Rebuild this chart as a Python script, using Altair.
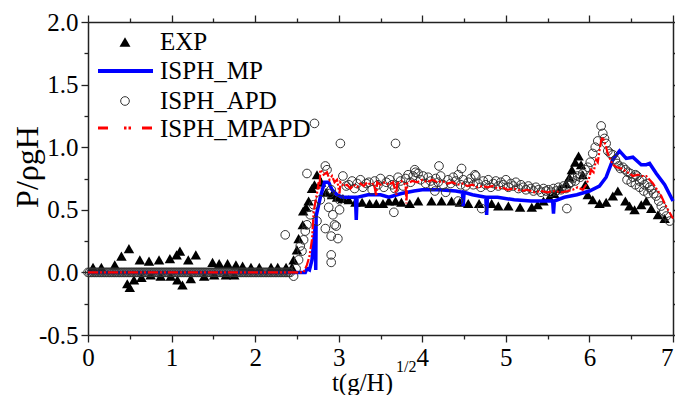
import altair as alt
import pandas as pd

FONT = "Liberation Serif, Times New Roman, serif"

# ---------------- data ----------------
exp_t = [0.06, 0.16, 0.32, 0.40, 0.47, 0.49, 0.50, 0.55, 0.62, 0.64, 0.73, 0.75, 0.85, 0.87,
         0.98, 0.99, 1.06, 1.07, 1.10, 1.13, 1.20, 1.23, 1.29, 1.39, 1.49, 1.51, 1.57, 1.65,
         1.67, 1.75, 1.77, 1.85, 1.95, 2.05, 2.19, 2.27, 2.37,
         2.44, 2.46, 2.50, 2.52, 2.57, 2.575, 2.61, 2.64, 2.68, 2.71, 2.74,
         2.79, 2.85, 2.92, 2.98, 3.05, 3.12, 3.20, 3.28, 3.37, 3.45, 3.53, 3.60, 3.68, 3.75,
         3.85, 3.95, 4.11, 4.23, 4.35, 4.45, 4.55, 4.68, 4.83, 4.91, 5.03, 5.17, 5.31, 5.38,
         5.45, 5.52, 5.58, 5.65, 5.72, 5.76, 5.79, 5.83, 5.87, 5.90, 5.92, 5.95, 5.98, 6.04,
         6.12, 6.20, 6.28, 6.34, 6.43, 6.48, 6.54, 6.62, 6.68, 6.74, 6.82, 6.90]
exp_p = [0.04, 0.04, 0.06, 0.13, -0.09, 0.19, -0.12, -0.06, 0.10, -0.04, 0.09, -0.02, 0.10, -0.03,
         0.11, -0.03, 0.14, -0.06, 0.17, -0.10, 0.10, -0.05, 0.14, -0.03, 0.08, -0.02, 0.07, -0.02,
         0.07, -0.02, 0.06, 0.05, 0.04, 0.04, 0.04, 0.04, 0.04,
         0.04, 0.10, 0.18, 0.27, 0.38, 0.49, 0.52, 0.57, 0.67, 0.70, 0.78,
         0.72, 0.64, 0.62, 0.60, 0.59, 0.58, 0.56, 0.56, 0.55, 0.55, 0.55, 0.57, 0.57, 0.56,
         0.55, 0.57, 0.57, 0.57, 0.57, 0.56, 0.55, 0.55, 0.55, 0.53, 0.53, 0.52, 0.52, 0.54,
         0.57, 0.60, 0.63, 0.67, 0.71, 0.76, 0.82, 0.88, 0.93, 0.86, 0.78, 0.70, 0.62, 0.58,
         0.55, 0.56, 0.61, 0.65, 0.57, 0.53, 0.50, 0.54, 0.57, 0.51, 0.46, 0.43]

mp_t = [0.00, 2.55, 2.60, 2.62, 2.65, 2.68, 2.72, 2.725, 2.73, 2.78, 2.83, 2.88, 2.92, 2.98,
        3.05, 3.15, 3.20, 3.21, 3.22, 3.35, 3.50, 3.60, 3.75, 3.90, 4.00, 4.20, 4.40, 4.48,
        4.49, 4.50, 4.60, 4.76, 4.77, 4.78, 4.90, 5.10, 5.30, 5.50, 5.56, 5.57, 5.58, 5.70,
        5.85, 6.00, 6.12, 6.20, 6.28, 6.36, 6.44, 6.52, 6.62, 6.68, 6.72, 6.80, 6.90, 7.00]
mp_p = [0.00, 0.00, 0.00, 0.03, 0.02, 0.10, 0.38, 0.02, 0.45, 0.60, 0.72, 0.72, 0.66, 0.62,
        0.60, 0.60, 0.60, 0.42, 0.60, 0.62, 0.62, 0.60, 0.63, 0.65, 0.66, 0.66, 0.65, 0.64,
        0.53, 0.64, 0.62, 0.60, 0.46, 0.60, 0.60, 0.58, 0.57, 0.57, 0.57, 0.47, 0.57, 0.60,
        0.62, 0.65, 0.69, 0.76, 0.90, 0.97, 0.91, 0.92, 0.86, 0.86, 0.87, 0.79, 0.70, 0.57]

apd_t = [0.00, 0.02, 0.04, 0.06, 0.08, 0.10, 0.12, 0.14, 0.16, 0.18, 0.20, 0.22, 0.24, 0.26,
         0.28, 0.30, 0.32, 0.34, 0.36, 0.38, 0.40, 0.42, 0.44, 0.46, 0.48, 0.50, 0.52, 0.54,
         0.56, 0.58, 0.60, 0.62, 0.64, 0.66, 0.68, 0.70, 0.72, 0.74, 0.76, 0.78, 0.80, 0.82,
         0.84, 0.86, 0.88, 0.90, 0.92, 0.94, 0.96, 0.98, 1.00, 1.02, 1.04, 1.06, 1.08, 1.10,
         1.12, 1.14, 1.16, 1.18, 1.20, 1.22, 1.24, 1.26, 1.28, 1.30, 1.32, 1.34, 1.36, 1.38,
         1.40, 1.42, 1.44, 1.46, 1.48, 1.50, 1.52, 1.54, 1.56, 1.58, 1.60, 1.62, 1.64, 1.66,
         1.68, 1.70, 1.72, 1.74, 1.76, 1.78, 1.80, 1.82, 1.84, 1.86, 1.88, 1.90, 1.92, 1.94,
         1.96, 1.98, 2.00, 2.02, 2.04, 2.06, 2.08, 2.10, 2.12, 2.14, 2.16, 2.18, 2.20, 2.22,
         2.24, 2.26, 2.28, 2.30, 2.32, 2.34, 2.36, 2.38, 2.40, 2.42,
         2.36, 2.46, 2.49, 2.52, 2.56, 2.54, 2.58, 2.60, 2.62, 2.62, 2.66, 2.70, 2.74, 2.78,
         2.84, 2.86, 2.84, 2.88, 2.89, 2.91, 2.93, 2.95, 2.97, 2.91, 2.99, 2.91, 2.91, 3.01,
         3.01, 3.05, 3.09, 2.71, 3.02, 3.68, 4.20, 3.66, 3.91, 4.47, 4.63, 4.71, 4.43, 5.73, 4.15,
         3.12, 3.16, 3.19, 3.22, 3.26, 3.29, 3.33, 3.36, 3.40, 3.43, 3.47, 3.50, 3.54, 3.57,
         3.61, 3.64, 3.67, 3.71, 3.74, 3.77, 3.80, 3.83, 3.86, 3.89, 3.92, 3.95, 3.98, 4.01,
         4.04, 4.07, 4.10, 4.13, 4.16, 4.19, 4.22, 4.25, 4.28, 4.31, 4.34, 4.37, 4.40, 4.43,
         4.46, 4.49, 4.52, 4.55, 4.58, 4.61, 4.64, 4.67, 4.70, 4.73, 4.76, 4.79, 4.82, 4.85,
         4.88, 4.91, 4.94, 4.97, 5.00, 5.03, 5.06, 5.09, 5.12, 5.15, 5.18, 5.21, 5.24, 5.27,
         5.30, 5.33, 5.36, 5.39, 5.42, 5.45, 5.48, 5.51, 5.54, 5.57, 5.60, 5.63, 5.66, 5.69,
         5.72, 5.75, 5.78, 5.80, 5.83, 5.86, 5.89, 5.92, 5.95, 5.98, 6.01, 6.04, 6.07, 6.10,
         6.14, 6.16, 6.18, 6.20, 6.22, 6.25, 6.28, 6.31, 6.33, 6.35, 6.37, 6.40, 6.43, 6.46,
         6.49, 6.52, 6.55, 6.57, 6.60, 6.63, 6.66, 6.69, 6.72, 6.74, 6.77, 6.80, 6.83, 6.86,
         6.89, 6.92, 6.96, 6.45, 6.50, 6.55, 6.60, 6.65, 6.70]
apd_p = [0.00, 0.00, 0.00, 0.00, 0.00, 0.00, 0.00, 0.00, 0.00, 0.00, 0.00, 0.00, 0.00, 0.00,
         0.00, 0.00, 0.00, 0.00, 0.00, 0.00, 0.00, 0.00, 0.00, 0.00, 0.00, 0.00, 0.00, 0.00,
         0.00, 0.00, 0.00, 0.00, 0.00, 0.00, 0.00, 0.00, 0.00, 0.00, 0.00, 0.00, 0.00, 0.00,
         0.00, 0.00, 0.00, 0.00, 0.00, 0.00, 0.00, 0.00, 0.00, 0.00, 0.00, 0.00, 0.00, 0.00,
         0.00, 0.00, 0.00, 0.00, 0.00, 0.00, 0.00, 0.00, 0.00, 0.00, 0.00, 0.00, 0.00, 0.00,
         0.00, 0.00, 0.00, 0.00, 0.00, 0.00, 0.00, 0.00, 0.00, 0.00, 0.00, 0.00, 0.00, 0.00,
         0.00, 0.00, 0.00, 0.00, 0.00, 0.00, 0.00, 0.00, 0.00, 0.00, 0.00, 0.00, 0.00, 0.00,
         0.00, 0.00, 0.00, 0.00, 0.00, 0.00, 0.00, 0.00, 0.00, 0.00, 0.00, 0.00, 0.00, 0.00,
         0.00, 0.00, 0.00, 0.00, 0.00, 0.00, 0.00, 0.00, 0.00, 0.00,
         0.30, -0.03, 0.03, 0.10, 0.17, 0.21, 0.26, 0.33, 0.38, 0.79, 0.46, 0.54, 0.41, 0.58,
         0.85, 0.82, 0.35, 0.52, 0.63, 0.66, 0.46, 0.38, 0.37, 0.29, 0.27, 0.14, 0.08, 0.50,
         0.58, 0.77, 0.69, 1.19, 1.03, 1.03, 0.85, 0.48, 0.82, 0.83, 0.78, 0.51, 0.57, 0.51, 0.65,
         0.70, 0.73, 0.67, 0.71, 0.74, 0.68, 0.71, 0.72, 0.66, 0.73, 0.70, 0.75, 0.68, 0.72,
         0.74, 0.70, 0.67, 0.76, 0.73, 0.69, 0.75, 0.78, 0.72, 0.77, 0.80, 0.79, 0.74, 0.77,
         0.71, 0.76, 0.73, 0.69, 0.75, 0.72, 0.77, 0.70, 0.64, 0.74, 0.71, 0.76, 0.73, 0.78,
         0.70, 0.74, 0.69, 0.72, 0.75, 0.70, 0.77, 0.71, 0.68, 0.73, 0.70, 0.74, 0.68, 0.71,
         0.73, 0.69, 0.72, 0.70, 0.74, 0.68, 0.71, 0.69, 0.72, 0.67, 0.70, 0.68, 0.66, 0.69,
         0.67, 0.65, 0.68, 0.66, 0.64, 0.67, 0.65, 0.66, 0.64, 0.67, 0.65, 0.68, 0.66, 0.69,
         0.67, 0.70, 0.72, 0.75, 0.73, 0.77, 0.76, 0.79, 0.82, 0.84, 0.88, 0.95, 1.00, 1.05,
         1.17, 1.11, 1.07, 1.03, 0.97, 0.95, 0.94, 0.90, 0.87, 0.85, 0.83, 0.84, 0.82, 0.80,
         0.79, 0.76, 0.78, 0.77, 0.73, 0.74, 0.70, 0.71, 0.68, 0.66, 0.63, 0.61, 0.57, 0.53,
         0.49, 0.45, 0.41, 0.74, 0.72, 0.70, 0.68, 0.65, 0.63]

mpapd_t = [0.00, 2.50, 2.58, 2.62, 2.65, 2.68, 2.70, 2.72, 2.74, 2.76, 2.77, 2.78, 2.82, 2.86,
           2.89, 2.92, 2.95, 2.98, 3.01, 3.02, 3.06, 3.10, 3.14, 3.18, 3.22, 3.26, 3.30, 3.34,
           3.38, 3.42, 3.45, 3.46, 3.50, 3.55, 3.60, 3.65, 3.69, 3.70, 3.75, 3.80, 3.81, 3.82,
           3.88, 3.94, 4.00, 4.06, 4.12, 4.18, 4.24, 4.30, 4.36, 4.42, 4.48, 4.54, 4.60, 4.66,
           4.72, 4.78, 4.84, 4.90, 4.96, 5.02, 5.10, 5.18, 5.26, 5.34, 5.42, 5.50, 5.58, 5.66,
           5.74, 5.80, 5.86, 5.92, 5.96, 6.00, 6.02, 6.05, 6.08, 6.10, 6.12, 6.14, 6.16, 6.19,
           6.22, 6.25, 6.28, 6.33, 6.38, 6.43, 6.48, 6.52, 6.58, 6.63, 6.68, 6.72, 6.76, 6.81,
           6.86, 6.90, 6.94, 7.00]
mpapd_p = [0.00, 0.00, 0.00, 0.06, 0.13, 0.26, 0.48, 0.56, 0.63, 0.72, 0.66, 0.82, 0.78, 0.80,
           0.74, 0.77, 0.72, 0.74, 0.63, 0.72, 0.69, 0.70, 0.67, 0.70, 0.68, 0.71, 0.69, 0.72,
           0.70, 0.71, 0.61, 0.72, 0.70, 0.72, 0.70, 0.72, 0.62, 0.71, 0.73, 0.70, 0.55, 0.71,
           0.73, 0.72, 0.74, 0.72, 0.74, 0.72, 0.73, 0.71, 0.72, 0.70, 0.71, 0.69, 0.70, 0.68,
           0.69, 0.68, 0.69, 0.67, 0.68, 0.66, 0.67, 0.65, 0.66, 0.64, 0.65, 0.64, 0.65, 0.64,
           0.65, 0.66, 0.68, 0.66, 0.70, 0.76, 0.82, 0.80, 0.90, 0.88, 0.97, 1.05, 1.08, 1.02,
           0.95, 0.90, 0.86, 0.84, 0.83, 0.81, 0.79, 0.77, 0.78, 0.77, 0.77, 0.74, 0.71, 0.66,
           0.61, 0.55, 0.50, 0.43]

x_major = [0, 1, 2, 3, 4, 5, 6, 7]
x_minor = [0.5, 1.5, 2.5, 3.5, 4.5, 5.5, 6.5]
y_major = [-0.5, 0.0, 0.5, 1.0, 1.5, 2.0]
y_minor = [-0.25, 0.25, 0.75, 1.25, 1.75]

legend_labels = ["EXP", "ISPH_MP", "ISPH_APD", "ISPH_MPAPD"]
y_title = "P/\u03c1gH"
x_title = "t(g/H)"
x_title_sup = "1/2"

# ---------------- tables ----------------
exp_df = pd.DataFrame({"t": exp_t, "p": exp_p})
mp_df = pd.DataFrame({"t": mp_t, "p": mp_p, "i": range(len(mp_t))})
apd_df = pd.DataFrame({"t": apd_t, "p": apd_p})
mpapd_df = pd.DataFrame({"t": mpapd_t, "p": mpapd_p, "i": range(len(mpapd_t))})
one = pd.DataFrame({"a": [0]})

W, H = 585, 313
xs = alt.Scale(domain=[0, 7], nice=False, zero=False)
ys = alt.Scale(domain=[-0.5, 2.0], nice=False, zero=False)
CIRC = "#333333"


def ax(orient, values, size, labels=False, domain=False, fmt=None, align=None):
    kw = dict(orient=orient, values=values, tickSize=size, labels=labels, grid=False,
              domain=domain, domainColor="#222222", domainWidth=1.5, tickColor="#222222",
              tickWidth=1.3, labelFont=FONT, labelFontSize=25, labelColor="black",
              labelPadding=3, labelFlush=False, labelOverlap=False, title=None)
    if fmt:
        kw["labelExpr"] = fmt
    if align is not None:
        kw["labelAlign"] = align
    return alt.Axis(**kw)


yfmt = "replace(format(datum.value, '.1f'), '\u2212', '-')"
x_align = {"condition": {"test": "datum.value == 7", "value": "right"}, "value": "center"}

tri = alt.Chart(exp_df).mark_point(shape="triangle-up", filled=True, color="black",
                                    size=110, opacity=1).encode(
    x=alt.X("t:Q", scale=xs, axis=ax("bottom", x_major, 7, labels=True, domain=True,
                                      align=x_align)),
    y=alt.Y("p:Q", scale=ys, axis=ax("left", y_major, 7, labels=True, domain=True, fmt=yfmt)),
)

mp = alt.Chart(mp_df).mark_line(color="#0000ff", strokeWidth=3.5).encode(
    x=alt.X("t:Q", scale=xs, axis=ax("bottom", x_minor, 4)),
    y=alt.Y("p:Q", scale=ys, axis=ax("left", y_minor, 4)),
    order="i:Q",
)

apd = alt.Chart(apd_df).mark_point(shape="circle", filled=False, color=CIRC,
                                   size=75, strokeWidth=1, opacity=1).encode(
    x=alt.X("t:Q", scale=xs, axis=ax("top", x_major, 7, domain=True)),
    y=alt.Y("p:Q", scale=ys, axis=ax("right", y_major, 7, domain=True)),
)

mpapd = alt.Chart(mpapd_df).mark_line(color="#ff0000", strokeWidth=2.2,
                                      strokeDash=[10, 2, 2, 2, 2, 2]).encode(
    x=alt.X("t:Q", scale=xs, axis=ax("top", x_minor, 4)),
    y=alt.Y("p:Q", scale=ys, axis=ax("right", y_minor, 4)),
    order="i:Q",
)

# legend (pixel positions inside the plot area)
lg = []
lg.append(alt.Chart(one).mark_point(shape="triangle-up", filled=True, color="black",
                                    size=120, opacity=1).encode(
    x=alt.value(37), y=alt.value(20)))
lg.append(alt.Chart(one).mark_rule(color="#0000ff", strokeWidth=4).encode(
    x=alt.value(10), x2=alt.value(65), y=alt.value(49)))
lg.append(alt.Chart(one).mark_point(shape="circle", filled=False, color=CIRC,
                                    size=75, strokeWidth=1, opacity=1).encode(
    x=alt.value(37), y=alt.value(79)))
lg.append(alt.Chart(one).mark_rule(color="#ff0000", strokeWidth=3,
                                   strokeDash=[10, 16, 2.5, 2, 2.5, 11]).encode(
    x=alt.value(10), x2=alt.value(65), y=alt.value(106)))
for lab, yy in zip(legend_labels, [20, 49, 79, 107]):
    lg.append(alt.Chart(one).mark_text(text=lab, font=FONT, fontSize=25, align="left",
                                       baseline="middle", color="black").encode(
        x=alt.value(72), y=alt.value(yy)))

ytl = alt.Chart(one).mark_text(text=y_title, font=FONT, fontSize=32, angle=270,
                               align="center", baseline="middle", color="black").encode(
    x=alt.value(-60), y=alt.value(145))
xt1 = alt.Chart(one).mark_text(text=x_title, font=FONT, fontSize=25, align="right",
                               baseline="middle", color="black").encode(
    x=alt.value(305), y=alt.value(361))
xt2 = alt.Chart(one).mark_text(text=x_title_sup, font=FONT, fontSize=16, align="left",
                               baseline="middle", color="black").encode(
    x=alt.value(308), y=alt.value(345))

chart = alt.layer(tri, mp, apd, mpapd, *lg, ytl, xt1, xt2).resolve_axis(
    x="independent", y="independent"
).properties(
    width=W, height=H,
    autosize=alt.AutoSizeParams(type="none"),
    padding={"left": 80, "top": 14, "right": 2, "bottom": 60},
).configure_view(stroke=None).configure(background="white")

chart.save("out.html", embed_options={"renderer": "svg", "actions": False})
